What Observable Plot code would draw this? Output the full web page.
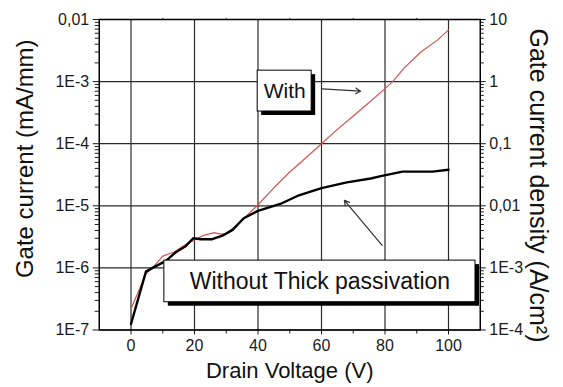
<!DOCTYPE html>
<html>
<head>
<meta charset="utf-8">
<script src="https://cdn.jsdelivr.net/npm/d3@7"></script>
<script src="https://cdn.jsdelivr.net/npm/@observablehq/plot@0.6"></script>
<style>
  html, body { margin: 0; padding: 0; background: #fff; }
</style>
</head>
<body>
<div id="chart"></div>
<script>
// ---- axis ticks ----
const xMajor = [0, 20, 40, 60, 80, 100];
const xMinor = [10, 30, 50, 70, 90];
const yMajor = [1e-7, 1e-6, 1e-5, 1e-4, 1e-3, 1e-2];
const leftLabels = ["1E-7", "1E-6", "1E-5", "1E-4", "1E-3", "0,01"];
const rightLabels = ["1E-4", "1E-3", "0,01", "0,1", "1", "10"];
const yMinor = [];
for (const d of yMajor.slice(0, -1)) for (let k = 2; k <= 9; k++) yMinor.push(k * d);

// ---- series: "With" (red) ----
const vWith = [0, 4.7, 6.8, 10, 13.6, 17.3, 19.6, 22.6, 26.2, 28.4, 30, 32.6, 35.5, 40, 45, 50, 55, 60, 65, 70, 75, 80, 82.4, 86, 91.3, 96.6, 100];
const iWith = [2.2e-7, 8e-7, 1e-6, 1.55e-6, 1.8e-6, 2.4e-6, 2.75e-6, 3.3e-6, 3.7e-6, 3.5e-6, 3.6e-6, 4.5e-6, 6.2e-6, 1.04e-5, 1.95e-5, 3.5e-5, 5.9e-5, 1e-4, 1.7e-4, 2.8e-4, 4.6e-4, 7.7e-4, 1e-3, 1.65e-3, 3.0e-3, 4.7e-3, 6.8e-3];

// ---- series: "Without Thick passivation" (black) ----
const vWithout = [0, 4.7, 6.8, 11, 14, 17.3, 19.6, 22, 25.6, 28.8, 32, 35.5, 40, 47, 52.4, 60, 68, 75.5, 78.7, 85.5, 95, 100];
const iWithout = [1.25e-7, 8.7e-7, 1e-6, 1.3e-6, 1.77e-6, 2.26e-6, 3.0e-6, 2.9e-6, 2.9e-6, 3.3e-6, 4.1e-6, 6.3e-6, 8.3e-6, 1.07e-5, 1.44e-5, 1.93e-5, 2.38e-5, 2.75e-5, 3.0e-5, 3.55e-5, 3.55e-5, 3.8e-5];

// ---- annotations (data coordinates) ----
const boxLabels = ["With", "Without Thick passivation"];
const boxV1 = [39.9, 10.5];
const boxV2 = [56.9, 108.5];
const boxI1 = [3.3e-4, 2.8e-7];
const boxI2 = [1.5e-3, 1.31e-6];
const arrowV1 = [60.2, 79.1];
const arrowI1 = [7.66e-4, 2.3e-6];
const arrowV2 = [72.3, 67.2];
const arrowI2 = [7.0e-4, 1.22e-5];

const withData = vWith.map((v, i) => ({v, i: iWith[i]}));
const withoutData = vWithout.map((v, i) => ({v, i: iWithout[i]}));
const boxes = boxLabels.map((label, k) => ({
  label, x1: boxV1[k], x2: boxV2[k], y1: boxI1[k], y2: boxI2[k],
  cx: (boxV1[k] + boxV2[k]) / 2, cy: Math.sqrt(boxI1[k] * boxI2[k])
}));
const arrows = arrowV1.map((v, k) => ({x1: v, y1: arrowI1[k], x2: arrowV2[k], y2: arrowI2[k]}));

const font = "'Liberation Sans', Arial, sans-serif";

const chart = Plot.plot({
  width: 563,
  height: 387,
  marginTop: 19,
  marginBottom: 57.5,
  marginLeft: 98.75,
  marginRight: 83.25,
  style: {fontFamily: font, fontSize: "16px", background: "#fff", color: "#1a1a1a"},
  x: {domain: [-10, 110]},
  y: {type: "log", domain: [1e-7, 1e-2]},
  marks: [
    // grid
    Plot.ruleX(xMajor, {stroke: "#2a2a2a", strokeWidth: 1.2}),
    Plot.ruleY(yMajor, {stroke: "#2a2a2a", strokeWidth: 1.2}),
    // axes
    Plot.axisX({ticks: xMajor, tickSize: 5, tickPadding: 5, fontSize: 16, label: null}),
    Plot.axisX({ticks: xMinor, tickSize: 4, tickFormat: () => "", label: null}),
    Plot.axisX({anchor: "top", ticks: xMinor, tickSize: 2, tickFormat: () => "", label: null}),
    Plot.axisY({anchor: "left", ticks: yMajor, tickSize: 6, tickPadding: 4, fontSize: 16, label: null,
      tickFormat: d => leftLabels[yMajor.indexOf(d)]}),
    Plot.axisY({anchor: "left", ticks: yMinor, tickSize: 4, tickFormat: () => "", label: null}),
    Plot.axisY({anchor: "right", ticks: yMajor, tickSize: 5, tickPadding: 4, fontSize: 16, label: null,
      tickFormat: d => rightLabels[yMajor.indexOf(d)]}),
    Plot.axisY({anchor: "right", ticks: yMinor, tickSize: 3, tickFormat: () => "", label: null}),
    // curves
    Plot.line(withData, {x: "v", y: "i", stroke: "#d9534f", strokeWidth: 1.2}),
    Plot.line(withoutData, {x: "v", y: "i", stroke: "#000", strokeWidth: 2.4}),
    // arrows
    Plot.arrow(arrows, {x1: "x1", y1: "y1", x2: "x2", y2: "y2", stroke: "#333", strokeWidth: 1.2, headLength: 7}),
    // annotation boxes
    Plot.rect(boxes, {x1: "x1", x2: "x2", y1: "y1", y2: "y2", fill: "#000", dx: 4, dy: 4}),
    Plot.rect(boxes, {x1: "x1", x2: "x2", y1: "y1", y2: "y2", fill: "#fff", stroke: "#000", strokeWidth: 1}),
    Plot.text(boxes, {x: "cx", y: "cy", text: "label", fontSize: (d, k) => k === 0 ? 21 : 23,
      fill: "#111", textAnchor: "middle", lineAnchor: "middle"}),
    // frame
    Plot.frame({stroke: "#000", strokeWidth: 1.5}),
    // axis titles
    Plot.text(["Drain Voltage (V)"], {frameAnchor: "bottom", dy: 41, fontSize: 22, fill: "#111", textAnchor: "middle", lineAnchor: "middle"}),
    Plot.text(["Gate current (mA/mm)"], {frameAnchor: "left", dx: -74, dy: -16, rotate: -90, textAnchor: "middle", fontSize: 24, fill: "#111", lineAnchor: "middle"}),
    Plot.text(["Gate current density (A/cm²)"], {frameAnchor: "top-right", dx: 58, dy: 9, rotate: 90, textAnchor: "start", fontSize: 25, fill: "#111", lineAnchor: "middle"})
  ]
});
document.getElementById("chart").appendChild(chart);
</script>
</body>
</html>
